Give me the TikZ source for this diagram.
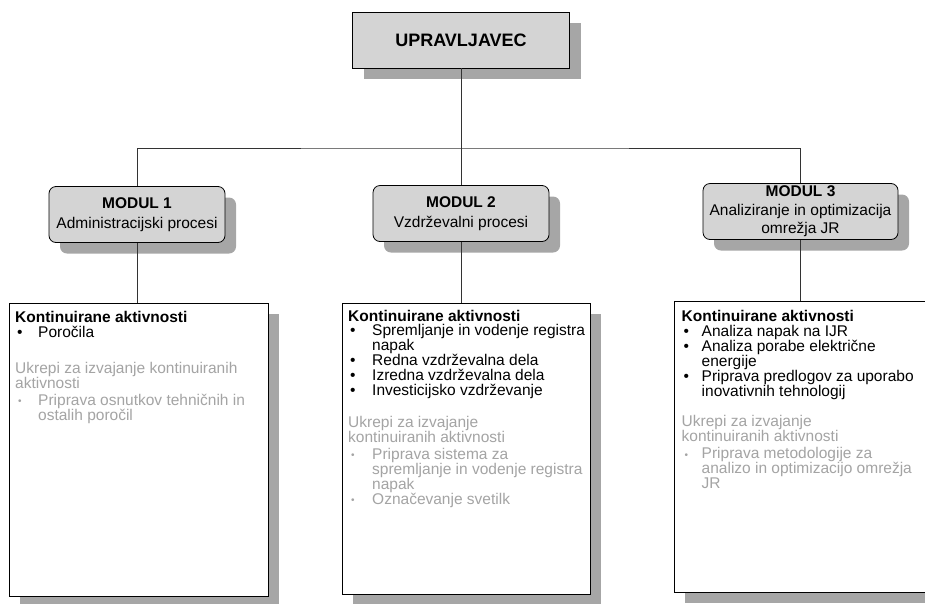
\documentclass[tikz,border=0pt]{standalone}
\usepackage{fontspec}
\setmainfont{Liberation Sans}
\usetikzlibrary{shadows}
\definecolor{fillgray}{HTML}{D4D4D4}
\definecolor{shadowgray}{HTML}{A6A6A6}
\definecolor{softgray}{HTML}{A4A4A4}
\newcommand{\blt}[1]{\makebox[#1][l]{\hspace{2pt}\textbullet}}
\newcommand{\gblt}[1]{\makebox[#1][l]{\hspace{3pt}\raisebox{0.5pt}{\fontsize{10}{10}\selectfont\textbullet}}}
\newcommand{\gr}[1]{{\color{softgray}#1}}
\begin{document}
\begin{tikzpicture}[x=1pt,y=-1pt,
  myshadow/.style={drop shadow={shadow xshift=11pt,shadow yshift=-11pt,opacity=1,fill=shadowgray}},
  topbox/.style={draw=black, line width=0.8pt, fill=fillgray, myshadow, minimum width=217pt, minimum height=56pt, inner sep=0pt, font=\fontsize{18}{20}\selectfont\bfseries},
  modbox/.style={draw=black, line width=0.8pt, fill=fillgray, myshadow, rounded corners=7pt, minimum height=56pt, inner sep=0pt, align=center, font=\fontsize{15.5}{19.5}\selectfont},
  bigbox/.style={draw=black, line width=0.8pt, fill=white, myshadow, inner sep=0pt, anchor=north west},
  conn/.style={draw=black!80, line width=0.7pt},
  listtext/.style={anchor=north west, align=left, inner sep=0pt, font=\fontsize{15.5}{15}\selectfont}
]
\useasboundingbox (0,0) rectangle (925,603);
\clip (0,0) rectangle (925,603);

% nodes
\node[topbox] (top) at (461,40) {UPRAVLJAVEC};
\node[modbox, minimum width=176pt] (m1) at (137,214.5) {\textbf{MODUL 1}\\Administracijski procesi};
\node[modbox, minimum width=176pt] (m2) at (461,213.5) {\textbf{MODUL 2}\\Vzdrževalni procesi};
\node[modbox, minimum width=195pt, font=\fontsize{15.5}{18.5}\selectfont] (m3) at (800.5,211.5) {\textbf{MODUL 3}\\Analiziranje in optimizacija\\omrežja JR};

\node[bigbox, minimum width=259pt, minimum height=293pt] (b1) at (9,303) {};
\node[bigbox, minimum width=248pt, minimum height=291pt] (b2) at (342,303) {};
\node[bigbox, minimum width=261pt, minimum height=291pt] (b3) at (674,301) {};

% connectors
\coordinate (bus) at (461,148);
\draw[conn] (top.south) -- (m2.north);
\draw[conn] (m1.north) |- (bus) -| (m3.north);
\draw[conn] (m1.south) -- (m1.south |- b1.north);
\draw[conn] (m2.south) -- (m2.south |- b2.north);
\draw[conn] (m3.south) -- (m3.south |- b3.north);

% texts
\node[listtext] (t1) at (15,311) {\textbf{Kontinuirane aktivnosti}\\
\blt{23pt}Poročila\\[21pt]
\gr{Ukrepi za izvajanje kontinuiranih}\\
\gr{aktivnosti}\\[2pt]
\gr{\gblt{23pt}Priprava osnutkov tehničnih in}\\
\gr{\hspace*{23pt}ostalih poročil}};

\node[listtext] (t2) at (348,310) {\textbf{Kontinuirane aktivnosti}\\[-1pt]
\blt{24pt}Spremljanje in vodenje registra\\
\hspace*{24pt}napak\\
\blt{24pt}Redna vzdrževalna dela\\
\blt{24pt}Izredna vzdrževalna dela\\
\blt{24pt}Investicijsko vzdrževanje\\[17pt]
\gr{Ukrepi za izvajanje}\\
\gr{kontinuiranih aktivnosti}\\[2pt]
\gr{\gblt{24pt}Priprava sistema za}\\
\gr{\hspace*{24pt}spremljanje in vodenje registra}\\
\gr{\hspace*{24pt}napak}\\
\gr{\gblt{24pt}Označevanje svetilk}};

\node[listtext] (t3) at (681.5,310.5) {\textbf{Kontinuirane aktivnosti}\\
\blt{20pt}Analiza napak na IJR\\
\blt{20pt}Analiza porabe električne\\
\hspace*{20pt}energije\\
\blt{20pt}Priprava predlogov za uporabo\\
\hspace*{20pt}inovativnih tehnologij\\[15pt]
\gr{Ukrepi za izvajanje}\\
\gr{kontinuiranih aktivnosti}\\[2pt]
\gr{\gblt{20pt}Priprava metodologije za}\\
\gr{\hspace*{20pt}analizo in optimizacijo omrežja}\\
\gr{\hspace*{20pt}JR}};
\end{tikzpicture}
\end{document}
